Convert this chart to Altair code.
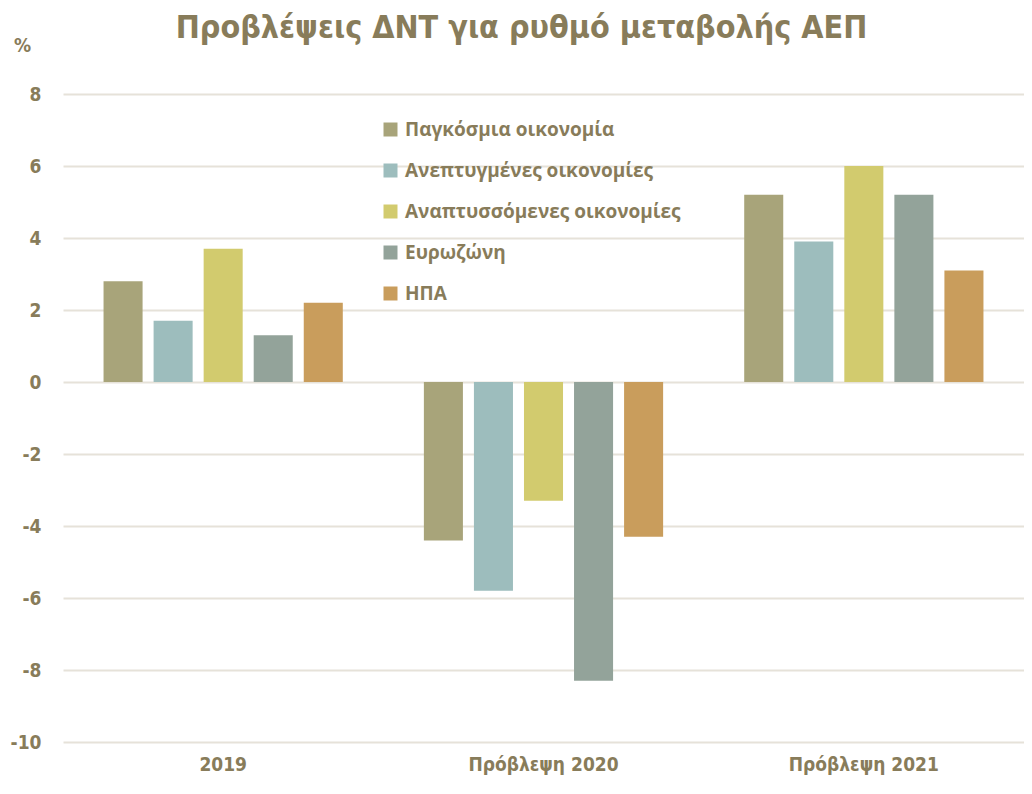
import altair as alt
import pandas as pd

periods = ["2019", "Πρόβλεψη 2020", "Πρόβλεψη 2021"]
series = ["Παγκόσμια οικονομία", "Ανεπτυγμένες οικονομίες",
          "Αναπτυσσόμενες οικονομίες", "Ευρωζώνη", "ΗΠΑ"]
world = [2.8, -4.4, 5.2]
advanced = [1.7, -5.8, 3.9]
emerging = [3.7, -3.3, 6.0]
eurozone = [1.3, -8.3, 5.2]
usa = [2.2, -4.3, 3.1]
colors = ["#A8A47A", "#9DBDBD", "#D2CB6E", "#93A39A", "#C99D5C"]
y_ticks = [-10, -8, -6, -4, -2, 0, 2, 4, 6, 8]

values_by_series = [world, advanced, emerging, eurozone, usa]
rows = []
for s, vals in zip(series, values_by_series):
    for p, v in zip(periods, vals):
        rows.append({"period": p, "series": s, "value": v})
df = pd.DataFrame(rows)

TXT = "#887C5A"
FONT = "DejaVu Sans Condensed, sans-serif"
LFONT = "Open Sans, Noto Sans, sans-serif"

chart = alt.Chart(df).mark_bar().encode(
    x=alt.X("period:N", sort=periods,
            scale=alt.Scale(paddingInner=0, paddingOuter=0),
            axis=alt.Axis(title=None, labelAngle=0, domain=False, ticks=False,
                          labelPadding=13, labelFontSize=19, labelFontWeight="bold",
                          labelColor=TXT, labelFont=FONT)),
    xOffset=alt.XOffset("series:N", sort=series,
                        scale=alt.Scale(paddingInner=0.22, paddingOuter=0.81)),
    y=alt.Y("value:Q", scale=alt.Scale(domain=[-10, 8], nice=False),
            axis=alt.Axis(values=y_ticks, labelExpr="toString(datum.value)",
                          title="%", titleAngle=0, titleX=-41, titleY=-49,
                          titleAlign="center", titleBaseline="middle", titleFontSize=19,
                          titleFont=FONT, titleFontWeight="bold", titleColor=TXT,
                          domain=False, ticks=False, labelPadding=22, labelFontSize=19,
                          labelFontWeight="bold", labelColor=TXT, labelFont=FONT,
                          gridColor="#E6E2D9", gridWidth=2)),
    color=alt.Color("series:N", sort=series,
                    scale=alt.Scale(domain=series, range=colors),
                    legend=alt.Legend(title=None, orient="none", legendX=318, legendY=26,
                                      symbolType="square", symbolSize=196,
                                      symbolStrokeWidth=0, labelFontSize=19,
                                      labelFont=LFONT, labelFontWeight="bold",
                                      labelColor=TXT, rowPadding=21, labelOffset=5,
                                      labelLimit=400)),
).properties(
    width=961, height=648,
    autosize="none",
    padding={"left": 55, "top": 86, "right": 0, "bottom": 38},
    title=alt.TitleParams("Προβλέψεις ΔΝΤ για ρυθμό μεταβολής ΑΕΠ", fontSize=32,
                          font=FONT, fontWeight="bold", color=TXT, anchor="middle",
                          dx=-22, dy=9, offset=0),
).configure_view(stroke=None)

chart.save("out.html", embed_options={"renderer": "svg", "actions": False})
